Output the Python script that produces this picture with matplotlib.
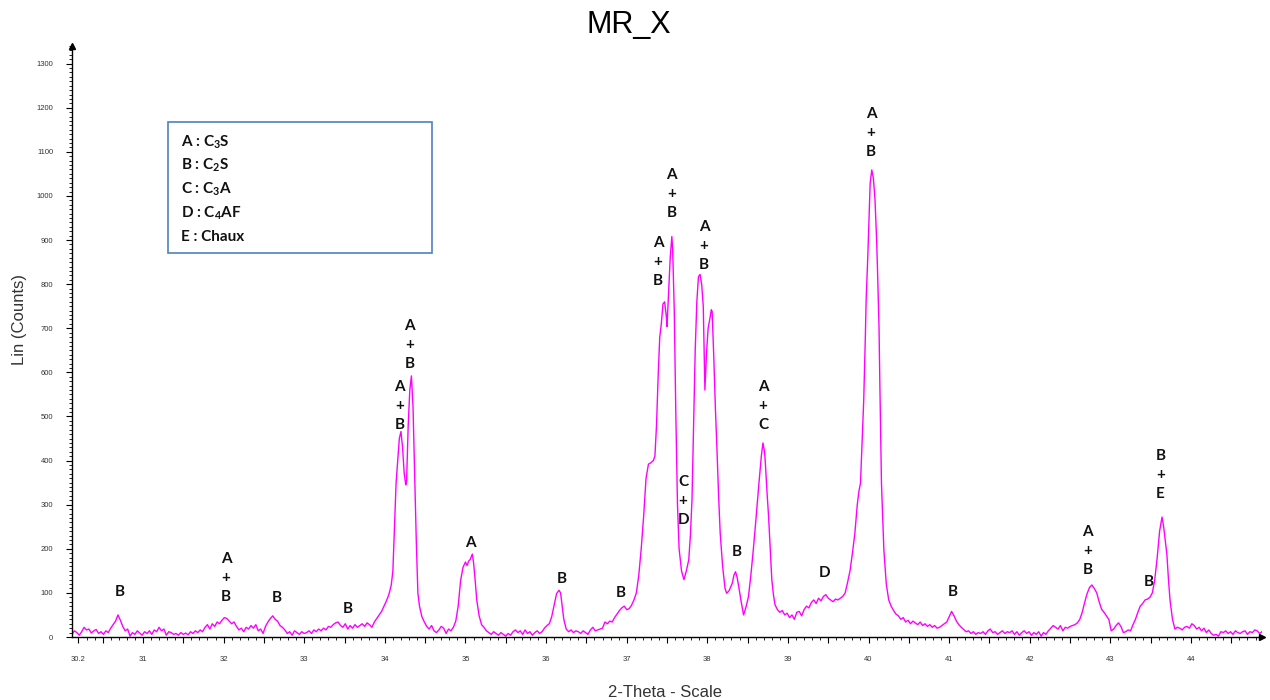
"""XRD pattern MR_X (2-Theta 30-45) with phase labels"""
import matplotlib
matplotlib.use('Agg')
import matplotlib.pyplot as plt
from matplotlib.patches import Rectangle
from matplotlib.ticker import FixedLocator, MultipleLocator

matplotlib.rcParams['font.family'] = ['Liberation Sans', 'DejaVu Sans']
matplotlib.rcParams['mathtext.default'] = 'regular'

# ---- diffractogram, (2-theta, counts), one list per region ----
seg_30 = [(30.12, 6), (30.15, 14), (30.18, 10), (30.21, 4), (30.24, 12), (30.27, 22),
          (30.30, 16), (30.33, 18), (30.36, 9), (30.39, 14), (30.42, 17), (30.45, 8),
          (30.48, 12), (30.51, 6), (30.54, 14), (30.57, 10), (30.60, 20), (30.63, 28),
          (30.66, 36), (30.69, 50), (30.72, 38), (30.75, 24), (30.78, 14), (30.81, 18),
          (30.84, 2), (30.87, 10), (30.90, 6), (30.93, 14), (30.96, 9), (30.99, 4)]
seg_31 = [(31.02, 12), (31.05, 8), (31.08, 14), (31.11, 6), (31.14, 16), (31.17, 12),
          (31.20, 22), (31.23, 14), (31.26, 18), (31.29, 4), (31.32, 12), (31.35, 10),
          (31.38, 6), (31.41, 8), (31.44, 4), (31.47, 10), (31.50, 6), (31.53, 9),
          (31.56, 5), (31.59, 12), (31.62, 8), (31.65, 14), (31.68, 10), (31.71, 16),
          (31.74, 12), (31.77, 22), (31.80, 28), (31.83, 18), (31.86, 30), (31.89, 24),
          (31.92, 34), (31.95, 30), (31.98, 38), (32.01, 44), (32.04, 42), (32.07, 36),
          (32.10, 30)]
seg_32 = [(32.13, 34), (32.16, 24), (32.19, 16), (32.22, 20), (32.25, 12), (32.28, 22),
          (32.31, 18), (32.34, 26), (32.37, 20), (32.40, 28), (32.43, 14), (32.46, 18),
          (32.49, 8), (32.52, 24), (32.55, 34), (32.58, 42), (32.61, 48), (32.64, 40),
          (32.67, 36), (32.70, 26), (32.73, 22), (32.76, 16), (32.79, 8), (32.82, 12),
          (32.85, 4), (32.88, 14), (32.91, 10), (32.94, 6), (32.97, 12), (33.00, 8)]
seg_33 = [(33.03, 10), (33.06, 14), (33.09, 8), (33.12, 16), (33.15, 12), (33.18, 18),
          (33.21, 14), (33.24, 20), (33.27, 16), (33.30, 24), (33.33, 22), (33.36, 28),
          (33.39, 32), (33.42, 34), (33.45, 26), (33.48, 22), (33.51, 30), (33.54, 18),
          (33.57, 26), (33.60, 20), (33.63, 28), (33.66, 22), (33.69, 26), (33.72, 30),
          (33.75, 24), (33.78, 32), (33.81, 28)]
seg_34 = [(33.84, 22), (33.87, 34), (33.90, 42), (33.93, 50), (33.96, 58), (33.99, 70),
          (34.02, 82), (34.05, 96), (34.08, 118), (34.10, 150), (34.12, 250), (34.14, 350),
          (34.16, 400), (34.18, 450), (34.20, 466), (34.22, 430), (34.24, 372), (34.26, 345),
          (34.27, 352), (34.29, 480), (34.31, 560), (34.33, 592), (34.35, 520), (34.37, 372),
          (34.39, 220), (34.41, 100), (34.43, 70), (34.46, 46), (34.49, 34), (34.52, 24),
          (34.55, 18), (34.58, 26), (34.61, 14), (34.64, 10), (34.67, 16), (34.70, 24),
          (34.73, 20), (34.76, 8), (34.79, 18), (34.82, 14), (34.85, 22), (34.88, 36),
          (34.91, 70), (34.94, 128), (34.97, 158), (35.00, 170), (35.02, 162), (35.04, 172),
          (35.06, 176), (35.085, 188), (35.10, 170), (35.12, 130), (35.14, 84), (35.17, 48),
          (35.20, 28), (35.23, 22), (35.26, 14)]
seg_35 = [(35.29, 10), (35.32, 6), (35.35, 12), (35.38, 8), (35.41, 4), (35.44, 10),
          (35.47, 6), (35.50, 2), (35.53, 8), (35.56, 4), (35.59, 12), (35.62, 16),
          (35.65, 10), (35.68, 14), (35.71, 6), (35.74, 16), (35.77, 8), (35.80, 12),
          (35.83, 4), (35.86, 10), (35.89, 14), (35.92, 8), (35.95, 12), (35.98, 20),
          (36.01, 26), (36.04, 30), (36.07, 46), (36.10, 72), (36.13, 98), (36.16, 106),
          (36.18, 100), (36.20, 70), (36.22, 40), (36.25, 18), (36.28, 12), (36.31, 16),
          (36.34, 10), (36.37, 14), (36.40, 12), (36.43, 8), (36.46, 14), (36.49, 10),
          (36.52, 6), (36.55, 16), (36.58, 22), (36.61, 14), (36.64, 16), (36.67, 18),
          (36.70, 20), (36.73, 34), (36.76, 30), (36.79, 36), (36.82, 34), (36.85, 44),
          (36.88, 52), (36.91, 60), (36.94, 66), (36.97, 70), (37.00, 62), (37.03, 64),
          (37.06, 72), (37.09, 84)]
seg_37 = [(37.12, 100), (37.15, 140), (37.18, 200), (37.21, 273), (37.24, 360), (37.27, 392),
          (37.30, 395), (37.33, 400), (37.35, 410), (37.37, 480), (37.39, 590), (37.41, 680),
          (37.43, 711), (37.45, 755), (37.47, 760), (37.49, 730), (37.50, 704), (37.52, 780),
          (37.54, 860), (37.56, 908), (37.57, 880), (37.59, 741), (37.61, 500), (37.63, 300),
          (37.65, 200), (37.68, 150), (37.71, 130), (37.74, 150), (37.77, 175), (37.79, 230),
          (37.81, 311), (37.83, 480), (37.85, 651), (37.87, 760), (37.89, 817), (37.91, 822),
          (37.93, 800), (37.95, 749), (37.97, 560), (37.99, 643), (38.01, 700), (38.03, 720),
          (38.05, 742), (38.06, 738), (38.08, 636), (38.10, 520), (38.12, 424), (38.14, 320),
          (38.16, 235), (38.19, 160), (38.22, 110), (38.24, 99), (38.27, 105), (38.31, 122),
          (38.33, 140), (38.35, 148), (38.37, 135), (38.39, 114), (38.42, 80), (38.45, 50),
          (38.48, 68), (38.51, 91), (38.54, 140), (38.57, 197), (38.60, 260), (38.64, 348),
          (38.67, 410), (38.69, 440), (38.71, 420), (38.72, 394), (38.74, 330), (38.76, 273),
          (38.78, 200), (38.80, 130), (38.82, 96), (38.84, 73), (38.87, 62), (38.90, 56),
          (38.93, 60), (38.96, 50), (38.99, 54)]
seg_39 = [(39.02, 44), (39.05, 50), (39.08, 40), (39.11, 56), (39.14, 58), (39.17, 48),
          (39.20, 62), (39.23, 70), (39.26, 66), (39.29, 78), (39.32, 84), (39.35, 76),
          (39.38, 88), (39.41, 82), (39.44, 92), (39.47, 96), (39.50, 88), (39.53, 84),
          (39.56, 80), (39.59, 86), (39.62, 84), (39.65, 88), (39.68, 92), (39.71, 100),
          (39.74, 124), (39.77, 150), (39.80, 190), (39.83, 235), (39.86, 300), (39.88, 330),
          (39.90, 349), (39.92, 440), (39.94, 537), (39.96, 680), (39.97, 764), (39.99, 860),
          (40.00, 916), (40.02, 1029), (40.04, 1059), (40.06, 1040), (40.08, 991), (40.10, 900),
          (40.11, 840), (40.13, 700), (40.14, 575), (40.16, 349), (40.19, 197), (40.22, 120),
          (40.25, 84), (40.28, 70), (40.31, 60), (40.34, 52), (40.37, 48), (40.40, 40),
          (40.43, 44), (40.46, 34), (40.49, 38), (40.52, 30), (40.55, 36), (40.58, 32),
          (40.61, 28), (40.64, 34), (40.67, 26), (40.70, 30), (40.73, 24), (40.76, 28),
          (40.79, 22), (40.82, 26), (40.85, 20), (40.88, 22), (40.91, 26), (40.94, 30),
          (40.97, 34)]
seg_41 = [(41.00, 46), (41.03, 58), (41.06, 48), (41.09, 36), (41.12, 28), (41.15, 22),
          (41.18, 17), (41.21, 12), (41.24, 14), (41.27, 8), (41.30, 12), (41.33, 6),
          (41.36, 10), (41.39, 8), (41.42, 12), (41.45, 6), (41.48, 14), (41.51, 18),
          (41.54, 10), (41.57, 12), (41.60, 6), (41.63, 10), (41.66, 14), (41.69, 8),
          (41.72, 12), (41.75, 10), (41.78, 14), (41.81, 6), (41.84, 12), (41.87, 4),
          (41.90, 10), (41.93, 14), (41.96, 8), (41.99, 12), (42.02, 4), (42.05, 10),
          (42.08, 6), (42.11, 12), (42.14, 2), (42.17, 10), (42.20, 6), (42.23, 14),
          (42.26, 20), (42.29, 26), (42.32, 22), (42.35, 18), (42.38, 26), (42.41, 14),
          (42.44, 22), (42.47, 20), (42.50, 24), (42.53, 26), (42.56, 28), (42.59, 32)]
seg_42 = [(42.62, 40), (42.65, 56), (42.68, 78), (42.71, 98), (42.74, 112), (42.77, 118),
          (42.80, 110), (42.83, 100), (42.86, 80), (42.89, 63), (42.92, 56), (42.95, 48),
          (42.98, 40), (43.01, 14), (43.04, 18), (43.07, 26), (43.10, 32), (43.13, 24),
          (43.16, 10), (43.19, 12), (43.22, 16), (43.25, 14), (43.28, 28), (43.31, 40),
          (43.34, 56), (43.37, 70), (43.40, 76), (43.43, 84), (43.46, 86), (43.49, 90),
          (43.52, 100), (43.55, 130), (43.58, 180), (43.61, 240), (43.64, 272), (43.66, 250),
          (43.68, 220), (43.70, 188), (43.72, 130), (43.74, 82), (43.77, 40), (43.80, 18)]
seg_44 = [(43.83, 22), (43.86, 20), (43.89, 16), (43.92, 22), (43.95, 24), (43.98, 20),
          (44.01, 30), (44.04, 26), (44.07, 18), (44.10, 22), (44.13, 14), (44.16, 20),
          (44.19, 10), (44.22, 16), (44.25, 8), (44.28, 4), (44.31, 6), (44.34, 2),
          (44.37, 12), (44.40, 10), (44.43, 14), (44.46, 8), (44.49, 12), (44.52, 6),
          (44.55, 14), (44.58, 10), (44.61, 8), (44.64, 12), (44.67, 14), (44.70, 6),
          (44.73, 12), (44.76, 10), (44.79, 16), (44.82, 14), (44.85, 8), (44.88, 12)]

segments = [seg_30, seg_31, seg_32, seg_33, seg_34, seg_35, seg_37, seg_39, seg_41, seg_42, seg_44]
two_theta = [p[0] for s in segments for p in s]
counts = [p[1] for s in segments for p in s]

# ---- phase labels above the peaks ----
label_theta = [30.71, 32.03, 32.66, 33.54, 34.18, 34.31, 35.06, 36.19, 36.93, 37.39, 37.56,
               37.70, 37.96, 38.37, 38.69, 39.46, 40.03, 41.04, 42.72, 43.47, 43.62]
label_counts = [102, 134, 88, 63, 524, 662, 213, 131, 100, 850, 1005,
                308, 887, 193, 524, 145, 1143, 102, 195, 125, 367]
label_text = ['B', 'A\n+\nB', 'B', 'B', 'A\n+\nB', 'A\n+\nB', 'A', 'B', 'B', 'A\n+\nB', 'A\n+\nB',
              'C\n+\nD', 'A\n+\nB', 'B', 'A\n+\nC', 'D', 'A\n+\nB', 'B', 'A\n+\nB', 'B', 'B\n+\nE']

legend_lines = ['A : C$_3$S', 'B : C$_2$S', 'C : C$_3$A', 'D : C$_4$AF', 'E : Chaux']

x_ticks = [30.2] + [v / 2 for v in range(61, 90)]
x_ticklabels = ['30.2'] + [str(int(v)) if float(v).is_integer() else '' for v in x_ticks[1:]]

LINE_COLOR = '#FF00FF'
LABEL_FONT = ['Lato', 'DejaVu Sans']

fig = plt.figure(figsize=(12.7, 7), dpi=100)
ax = fig.add_axes([72 / 1270, 63 / 700, 1190 / 1270, 591 / 700])

ax.plot(two_theta, counts, color=LINE_COLOR, linewidth=1.0)

for xt, yt, txt in zip(label_theta, label_counts, label_text):
    ax.text(xt, yt, txt, ha='center', va='center', fontsize=11, fontweight='bold',
            family=LABEL_FONT, linespacing=1.45, color='#111111')

ax.set_xlim(30.12, 44.88)
ax.set_ylim(0, 1340)

for side in ['top', 'right']:
    ax.spines[side].set_visible(False)
for side in ['left', 'bottom']:
    ax.spines[side].set_linewidth(1.0)

# arrow heads at the axis ends
ax.plot([0], [1], marker='^', markersize=5, color='black', transform=ax.transAxes, clip_on=False)
ax.plot([1], [0], marker='>', markersize=5, color='black', transform=ax.transAxes, clip_on=False)

ax.xaxis.set_major_locator(FixedLocator(x_ticks))
ax.set_xticklabels(x_ticklabels)
ax.xaxis.set_minor_locator(MultipleLocator(0.1))
ax.yaxis.set_major_locator(MultipleLocator(100))
ax.yaxis.set_minor_locator(MultipleLocator(10))
ax.set_yticks(range(0, 1301, 100))
ax.tick_params(axis='both', which='major', length=4.5, width=0.8, labelsize=5.5,
               labelcolor='#333333')
ax.tick_params(axis='both', which='minor', length=2.5, width=0.6)
ax.tick_params(axis='x', pad=9)
ax.tick_params(axis='y', pad=9)

# legend box
fig.patches.append(Rectangle((168 / 1270, 1 - 253 / 700), 264 / 1270, 131 / 700,
                             transform=fig.transFigure, facecolor='white',
                             edgecolor='#4F81BD', linewidth=1.2))
for i, line in enumerate(legend_lines):
    fig.text(181 / 1270, 1 - (142 + 23.7 * i) / 700, line, ha='left', va='center',
             fontsize=11, fontweight='bold', family=LABEL_FONT, color='#111111')

fig.text(629 / 1270, 1 - 25 / 700, 'MR_X', ha='center', va='center', fontsize=22)
fig.text(20 / 1270, 1 - 320 / 700, 'Lin (Counts)', rotation=90, ha='center', va='center',
         fontsize=12, color='#333333')
fig.text(665 / 1270, 3 / 700, '2-Theta - Scale', ha='center', va='baseline',
         fontsize=12, color='#333333')

fig.savefig('out.png', dpi=100)
